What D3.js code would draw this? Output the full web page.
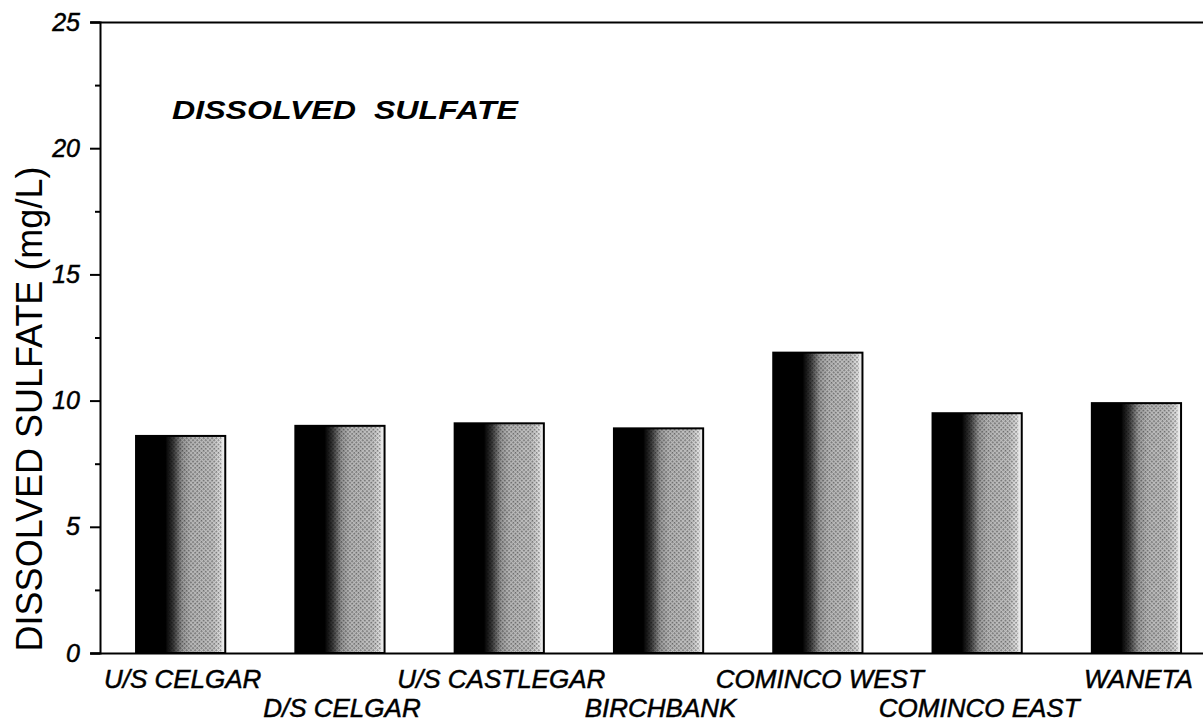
<!DOCTYPE html>
<html>
<head>
<meta charset="utf-8">
<script src="https://cdn.jsdelivr.net/npm/d3@7"></script>
<style>
  body { margin: 0; background: #fff; }
  svg { display: block; font-family: 'Liberation Sans', Arial, sans-serif; }
</style>
</head>
<body>
<div id="chart"></div>
<script>
// data
const sites = ['U/S CELGAR', 'D/S CELGAR', 'U/S CASTLEGAR', 'BIRCHBANK', 'COMINCO WEST', 'COMINCO EAST', 'WANETA']
const sulfate = [8.6, 9.0, 9.1, 8.9, 11.9, 9.5, 9.9]
const majorTicks = [0, 5, 10, 15, 20, 25]
const minorTicks = [2.5, 7.5, 12.5, 17.5, 22.5]
const title = 'DISSOLVED\u00a0\u00a0SULFATE'
const yLabel = 'DISSOLVED SULFATE (mg/L)'

const width = 1203
const height = 724
const padding = { top: 22, right: 0, bottom: 71, left: 100 }

const svg = d3.select('#chart').append('svg')
    .attr('width', width)
    .attr('height', height)

const defs = svg.append('defs')
const grad = defs.append('linearGradient')
    .attr('id', 'barFill')
    .attr('x1', '0').attr('x2', '1').attr('y1', '0').attr('y2', '0')
const stops = [
    [0, '#000'], [0.33, '#000'], [0.42, '#3a3a3a'], [0.52, '#9a9a9a'],
    [0.62, '#b8b8b8'], [0.86, '#c2c2c2'], [0.94, '#dedede'], [1, '#f0f0f0']
]
stops.forEach(s => grad.append('stop').attr('offset', s[0]).attr('stop-color', s[1]))

// halftone-ish texture (checker of small dots)
const pat = defs.append('pattern')
    .attr('id', 'dots')
    .attr('width', 3).attr('height', 3)
    .attr('patternUnits', 'userSpaceOnUse')
    .attr('patternTransform', 'rotate(45)')
pat.append('rect').attr('width', 1.6).attr('height', 1.6).attr('fill', '#000').attr('opacity', 0.45)

const y = d3.scaleLinear()
    .domain([0, 25])
    .range([height - padding.bottom, padding.top])

const x = d3.scaleBand()
    .domain(sites)
    .range([padding.left + 1, padding.left + 1 + 7 * 159.3])
    .paddingInner(0.44)
    .paddingOuter(0.22)

// bars
const bars = svg.append('g').attr('class', 'bars')
bars.selectAll('rect.fill')
    .data(sulfate)
    .enter()
    .append('rect')
    .attr('class', 'fill')
    .attr('x', (d, i) => x(sites[i]))
    .attr('y', d => y(d))
    .attr('width', x.bandwidth())
    .attr('height', d => y(0) - y(d))
    .attr('fill', 'url(#barFill)')
bars.selectAll('rect.tex')
    .data(sulfate)
    .enter()
    .append('rect')
    .attr('class', 'tex')
    .attr('x', (d, i) => x(sites[i]) + x.bandwidth() * 0.36)
    .attr('y', d => y(d))
    .attr('width', x.bandwidth() * 0.6)
    .attr('height', d => y(0) - y(d))
    .attr('fill', 'url(#dots)')
bars.selectAll('rect.edge')
    .data(sulfate)
    .enter()
    .append('rect')
    .attr('class', 'edge')
    .attr('x', (d, i) => x(sites[i]))
    .attr('y', d => y(d))
    .attr('width', x.bandwidth())
    .attr('height', d => y(0) - y(d))
    .attr('fill', 'none')
    .attr('stroke', '#000')
    .attr('stroke-width', 2)

// y axis, major and minor ticks
const yAxis = svg.append('g')
    .attr('transform', `translate(${padding.left},0)`)
    .call(d3.axisLeft(y).tickValues(majorTicks).tickSize(10).tickPadding(10).tickFormat(d3.format('d')))
yAxis.select('.domain').attr('stroke-width', 2)
yAxis.selectAll('.tick line').attr('stroke-width', 2)
yAxis.selectAll('text')
    .style('font-size', '25px')
    .style('font-style', 'italic')
    .style('font-family', "'Liberation Sans', Arial, sans-serif")
    .attr('fill', '#000')
    .attr('stroke', '#000')
    .attr('stroke-width', 0.5)

svg.append('g')
    .attr('transform', `translate(${padding.left},0)`)
    .call(d3.axisLeft(y).tickValues(minorTicks).tickSize(5).tickFormat(''))
    .call(g => g.select('.domain').remove())
    .selectAll('.tick line').attr('stroke-width', 2)

// top and bottom frame lines
const frame = d3.scaleLinear().domain([0, 1]).range([padding.left - 10, width])
svg.append('g')
    .attr('transform', `translate(0,${y(25)})`)
    .call(d3.axisTop(frame).tickValues([]).tickSizeOuter(0))
    .select('.domain').attr('stroke-width', 2)
svg.append('g')
    .attr('transform', `translate(0,${y(0)})`)
    .call(d3.axisBottom(frame).tickValues([]).tickSizeOuter(0))
    .select('.domain').attr('stroke-width', 2)

// category labels, staggered in two rows
svg.append('g').selectAll('text')
    .data(sites)
    .enter()
    .append('text')
    .attr('x', d => x(d) + x.bandwidth() / 2 + 2)
    .attr('y', (d, i) => i % 2 === 0 ? 688 : 717)
    .attr('text-anchor', 'middle')
    .attr('font-size', 26)
    .attr('font-style', 'italic')
    .attr('fill', '#000')
    .attr('stroke', '#000')
    .attr('stroke-width', 0.5)
    .text(d => d)

// chart title
svg.append('text')
    .attr('x', 172)
    .attr('y', 119)
    .attr('font-size', 25)
    .attr('font-weight', 'bold')
    .attr('font-style', 'italic')
    .attr('textLength', 346)
    .attr('lengthAdjust', 'spacingAndGlyphs')
    .text(title)

// y axis title
svg.append('text')
    .attr('transform', 'translate(42,409) rotate(-90)')
    .attr('text-anchor', 'middle')
    .attr('font-size', 36)
    .attr('fill', '#000')
    .text(yLabel)
</script>
</body>
</html>
